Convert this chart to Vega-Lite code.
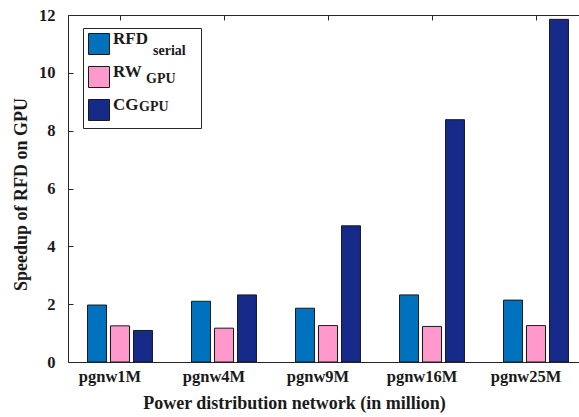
{
  "$schema": "https://vega.github.io/schema/vega-lite/v6.json",
  "autosize": {"type": "none"},
  "padding": {"left": 68, "top": 15, "right": 0, "bottom": 55},
  "width": 511,
  "height": 347,
  "background": "white",
  "config": {
    "view": {"stroke": null},
    "font": "Liberation Serif",
    "axis": {
      "labelFont": "Liberation Serif",
      "labelFontWeight": "bold",
      "labelFontSize": 16.5,
      "labelColor": "#1a1a1a",
      "titleFont": "Liberation Serif",
      "titleFontWeight": "bold",
      "titleFontSize": 18,
      "titleColor": "#1a1a1a",
      "domainColor": "#262626",
      "tickColor": "#262626",
      "grid": false
    },
    "legend": {
      "labelFont": "Liberation Serif",
      "labelFontWeight": "bold",
      "labelColor": "#1a1a1a"
    }
  },
  "data": {
    "values": [
      {"net": "pgnw1M", "series": "RFD", "sub": "s1", "v": 1.97},
      {"net": "pgnw1M", "series": "RW", "sub": "s2", "v": 1.25},
      {"net": "pgnw1M", "series": "CG", "sub": "s3", "v": 1.09},
      {"net": "pgnw4M", "series": "RFD", "sub": "s1", "v": 2.10},
      {"net": "pgnw4M", "series": "RW", "sub": "s2", "v": 1.17},
      {"net": "pgnw4M", "series": "CG", "sub": "s3", "v": 2.32},
      {"net": "pgnw9M", "series": "RFD", "sub": "s1", "v": 1.86},
      {"net": "pgnw9M", "series": "RW", "sub": "s2", "v": 1.26},
      {"net": "pgnw9M", "series": "CG", "sub": "s3", "v": 4.71},
      {"net": "pgnw16M", "series": "RFD", "sub": "s1", "v": 2.32},
      {"net": "pgnw16M", "series": "RW", "sub": "s2", "v": 1.23},
      {"net": "pgnw16M", "series": "CG", "sub": "s3", "v": 8.38},
      {"net": "pgnw25M", "series": "RFD", "sub": "s1", "v": 2.14},
      {"net": "pgnw25M", "series": "RW", "sub": "s2", "v": 1.26},
      {"net": "pgnw25M", "series": "CG", "sub": "s3", "v": 11.85}
    ]
  },
  "resolve": {"axis": {"x": "independent"}},
  "layer": [
    {
      "mark": {"type": "bar", "stroke": "#1a1a1a", "strokeWidth": 1},
      "encoding": {
        "x": {
          "field": "net", "type": "nominal", "sort": null,
          "scale": {"range": [0, 520], "paddingInner": 0.337, "paddingOuter": 0.1685},
          "axis": {
            "orient": "bottom",
            "title": "Power distribution network (in million)",
            "labelAngle": 0,
            "tickSize": -5,
            "labelPadding": 11,
            "labelOffset": -10,
            "titleX": 226,
            "titlePadding": 10
          }
        },
        "xOffset": {
          "field": "series", "type": "nominal",
          "scale": {"domain": ["RFD", "RW", "CG"], "paddingInner": 0.174, "paddingOuter": 0.087}
        },
        "y": {
          "field": "v", "type": "quantitative",
          "scale": {"domain": [0, 12], "nice": false},
          "axis": {
            "title": "Speedup of RFD on GPU",
            "values": [0, 2, 4, 6, 8, 10, 12],
            "tickSize": -5,
            "labelPadding": 18,
            "titleY": 179,
            "titlePadding": 8
          }
        },
        "color": {
          "field": "series", "type": "nominal",
          "scale": {"domain": ["RFD", "RW", "CG"], "range": ["#0072BD", "#FF99CC", "#152A89"]},
          "legend": {
            "title": "\u200b\u00a0\u00a0\u00a0\u00a0\u00a0\u00a0\u00a0\u00a0\u200b",
            "titleOrient": "right",
            "titlePadding": 44,
            "titleFontSize": 2,
            "orient": "none",
            "legendX": 15,
            "legendY": 13,
            "padding": 5,
            "strokeColor": "#262626",
            "fillColor": "white",
            "symbolType": "square",
            "symbolSize": 441,
            "symbolStrokeColor": "#1a1a1a",
            "symbolStrokeWidth": 1,
            "symbolOpacity": 1,
            "rowPadding": 6,
            "labelOffset": 3,
            "labelFontSize": 17,
            "labelBaseline": "alphabetic"
          }
        }
      }
    },
    {
      "mark": {"type": "point", "opacity": 0},
      "encoding": {
        "x": {
          "field": "net", "type": "nominal", "sort": null,
          "axis": {"orient": "top", "title": null, "labels": false, "tickSize": -5}
        },
        "shape": {
          "field": "sub", "type": "nominal",
          "scale": {"domain": ["s1", "s2", "s3"]},
          "legend": {
            "title": null,
            "orient": "none",
            "legendX": 42,
            "legendY": 24,
            "padding": 5,
            "symbolType": "square",
            "symbolSize": 441,
            "symbolOpacity": 0,
            "symbolStrokeWidth": 0,
            "rowPadding": 6,
            "labelOffset": 3,
            "labelFontSize": 14,
            "labelBaseline": "alphabetic",
            "labelExpr": "datum.label == 's1' ? '\\u200b\\u00a0\\u00a0\\u00a0\\u00a0serial' : datum.label == 's2' ? '\\u200b\\u00a0\\u00a0GPU' : 'GPU'"
          }
        }
      }
    }
  ]
}
